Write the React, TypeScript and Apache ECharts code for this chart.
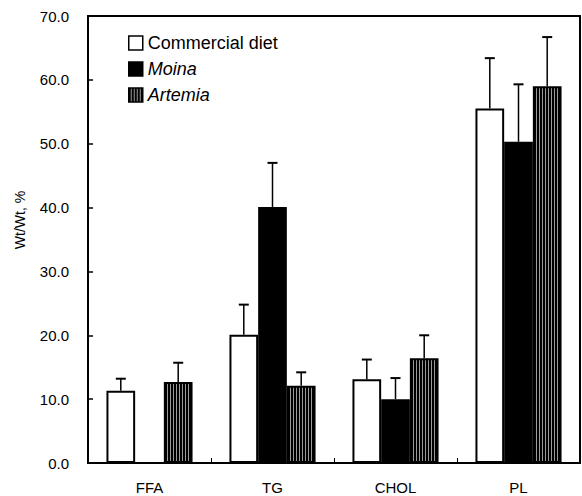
import React, { useEffect, useRef } from "react";
import * as echarts from "echarts";

const categories = ["FFA", "TG", "CHOL", "PL"];
const seriesNames = ["Commercial diet", "Moina", "Artemia"];
const commercialValues = [11.3, 20.1, 13.1, 55.5];
const commercialErrors = [1.9, 4.7, 3.1, 7.9];
const moinaValues = [0, 40.1, 10.0, 50.3];
const moinaErrors = [0, 6.9, 3.3, 9.0];
const artemiaValues = [12.7, 12.1, 16.4, 59.0];
const artemiaErrors = [3.0, 2.1, 3.6, 7.7];
const yTickMin = 0;
const yTickMax = 70;
const yTickInterval = 10;

const FONT = "'Liberation Sans', Arial, Helvetica, sans-serif";
const BAR_CATEGORY_GAP = 0.3;

function makeStripes(): HTMLCanvasElement {
  const c = document.createElement("canvas");
  c.width = 3;
  c.height = 4;
  const ctx = c.getContext("2d")!;
  ctx.fillStyle = "#9a9a9a";
  ctx.fillRect(0, 0, 3, 4);
  ctx.fillStyle = "#000000";
  ctx.fillRect(0, 0, 2, 4);
  return c;
}

export default function App() {
  const ref = useRef<HTMLDivElement>(null);

  useEffect(() => {
    if (!ref.current) return;
    const chart = echarts.init(ref.current, null, { renderer: "svg" });
    const stripes = makeStripes();

    const valueSets = [commercialValues, moinaValues, artemiaValues];
    const errorSets = [commercialErrors, moinaErrors, artemiaErrors];
    const errData: number[][] = [];
    valueSets.forEach((vals, si) => {
      vals.forEach((v, ci) => {
        const e = errorSets[si][ci];
        if (e > 0) errData.push([ci, v, e, si]);
      });
    });

    const option: any = {
      animation: false,
      backgroundColor: "#ffffff",
      textStyle: { fontFamily: FONT, color: "#000" },
      grid: {
        left: 88,
        right: 2,
        top: 16,
        bottom: 33,
        show: true,
        borderColor: "#000",
        borderWidth: 2,
        backgroundColor: "transparent",
      },
      legend: {
        orient: "vertical",
        left: 128,
        top: 34,
        padding: 0,
        itemWidth: 14,
        itemHeight: 14,
        itemGap: 8,
        icon: "rect",
        data: seriesNames,
        itemStyle: { borderWidth: 1.5 },
        textStyle: {
          fontFamily: FONT,
          fontSize: 18,
          color: "#000",
          rich: {
            i: { fontFamily: FONT, fontSize: 18, fontStyle: "italic", color: "#000" },
          },
        },
        formatter: (name: string) =>
          name === "Commercial diet" ? name : `{i|${name}}`,
      },
      graphic: [
        {
          type: "text",
          x: 20,
          y: 220,
          rotation: Math.PI / 2,
          style: {
            text: "Wt/Wt, %",
            fontFamily: FONT,
            fontSize: 14,
            fill: "#000",
            textAlign: "center",
            textVerticalAlign: "middle",
          },
        },
      ],
      xAxis: {
        type: "category",
        data: categories,
        axisLine: { show: true, lineStyle: { color: "#000", width: 2 } },
        axisTick: { show: true, inside: true, length: 5, lineStyle: { color: "#000", width: 1 } },
        axisLabel: { fontFamily: FONT, fontSize: 15, color: "#000", margin: 17 },
        splitLine: { show: false },
      },
      yAxis: {
        type: "value",
        min: yTickMin,
        max: yTickMax,
        interval: yTickInterval,
        axisLine: { show: true, lineStyle: { color: "#000", width: 2 } },
        axisTick: { show: true, inside: true, length: 5, lineStyle: { color: "#000", width: 1.5 } },
        axisLabel: {
          fontFamily: FONT,
          fontSize: 15,
          color: "#000",
          margin: 19,
          formatter: (v: number) => v.toFixed(1),
        },
        splitLine: { show: false },
      },
      series: [
        {
          name: seriesNames[0],
          type: "bar",
          data: commercialValues,
          barGap: "0%",
          barCategoryGap: `${BAR_CATEGORY_GAP * 100}%`,
          itemStyle: { color: "#ffffff", borderColor: "#000", borderWidth: 2 },
        },
        {
          name: seriesNames[1],
          type: "bar",
          data: moinaValues,
          barGap: "0%",
          barCategoryGap: `${BAR_CATEGORY_GAP * 100}%`,
          itemStyle: { color: "#000000", borderColor: "#000", borderWidth: 0 },
        },
        {
          name: seriesNames[2],
          type: "bar",
          data: artemiaValues,
          barGap: "0%",
          barCategoryGap: `${BAR_CATEGORY_GAP * 100}%`,
          itemStyle: {
            color: { image: stripes, repeat: "repeat" },
            borderColor: "#000",
            borderWidth: 2,
          },
        },
        {
          name: "errors",
          type: "custom",
          data: errData,
          z: 5,
          silent: true,
          renderItem: (params: any, api: any) => {
            const ci = api.value(0);
            const v = api.value(1);
            const e = api.value(2);
            const si = api.value(3);
            const band = api.size([1, 0])[0];
            const bw = (band * (1 - BAR_CATEGORY_GAP)) / 3;
            const cx = api.coord([ci, 0])[0] + (si - 1) * bw;
            const yBase = api.coord([ci, v])[1];
            const yTop = api.coord([ci, v + e])[1];
            const cap = 5;
            return {
              type: "group",
              children: [
                {
                  type: "line",
                  shape: { x1: cx, y1: yBase, x2: cx, y2: yTop },
                  style: { stroke: "#000", lineWidth: 1.5 },
                },
                {
                  type: "line",
                  shape: { x1: cx - cap, y1: yTop, x2: cx + cap, y2: yTop },
                  style: { stroke: "#000", lineWidth: 2 },
                },
              ],
            };
          },
        },
      ],
    };

    chart.setOption(option);
    return () => chart.dispose();
  }, []);

  return <div ref={ref} style={{ width: 582, height: 496, position: "absolute", left: 0, top: 0 }} />;
}
